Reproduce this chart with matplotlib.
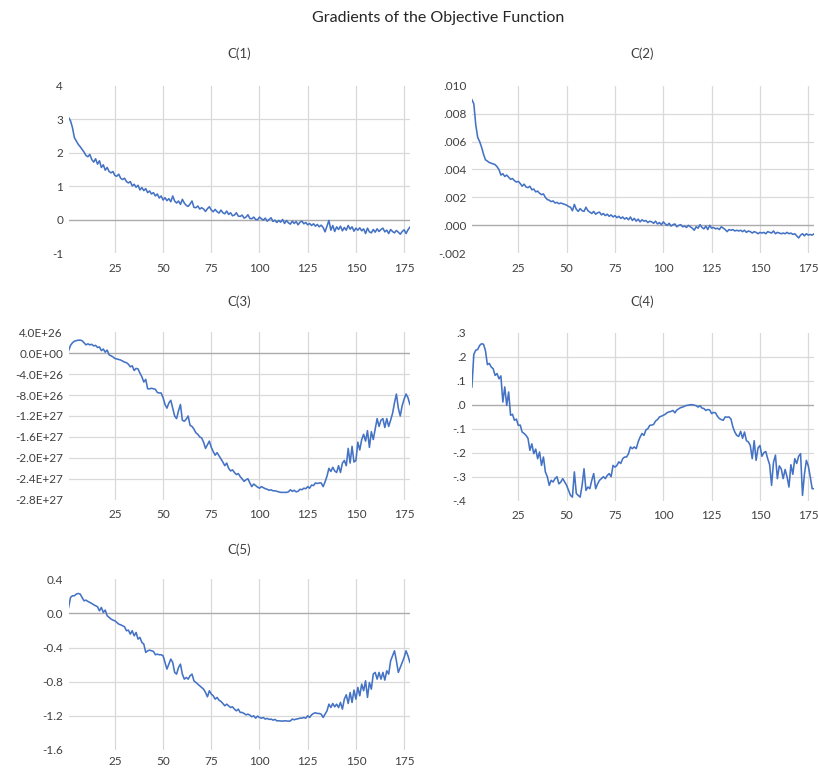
import numpy as np
import matplotlib
matplotlib.use("Agg")
import matplotlib.pyplot as plt
from matplotlib.ticker import FuncFormatter

plt.rcParams['font.family'] = ['Lato', 'DejaVu Sans']

# gradient values per iteration
c1 = [3.05, 2.95, 2.75, 2.45, 2.35, 2.25, 2.18, 2.10, 2.02, 1.92,
      1.88, 1.95, 1.80, 1.72, 1.82, 1.66, 1.76, 1.56, 1.64, 1.48,
      1.56, 1.44, 1.40, 1.44, 1.32, 1.30, 1.36, 1.24, 1.20, 1.24,
      1.14, 1.10, 1.14, 1.01, 1.06, 0.97, 1.03, 0.89, 0.96, 0.87,
      0.93, 0.81, 0.86, 0.77, 0.81, 0.71, 0.77, 0.65, 0.71, 0.59,
      0.66, 0.57, 0.63, 0.54, 0.71, 0.56, 0.50, 0.56, 0.46, 0.61,
      0.50, 0.43, 0.40, 0.47, 0.56, 0.37, 0.36, 0.41, 0.32, 0.36,
      0.32, 0.25, 0.33, 0.39, 0.29, 0.24, 0.31, 0.24, 0.20, 0.29,
      0.21, 0.18, 0.26, 0.16, 0.21, 0.12, 0.14, 0.21, 0.11, 0.10,
      0.14, 0.05, 0.08, 0.15, 0.04, 0.03, 0.08, 0.01, 0.00, 0.08,
      0.03, -0.01, 0.05, -0.04, 0.01, 0.06, -0.05, -0.01, -0.08, -0.02,
      -0.07, 0.01, -0.11, -0.02, -0.09, -0.13, -0.04, -0.11, -0.05, -0.15,
      -0.07, -0.04, -0.12, -0.08, -0.15, -0.11, -0.17, -0.12, -0.19, -0.14,
      -0.21, -0.16, -0.23, -0.36, -0.19, -0.02, -0.31, -0.17, -0.35, -0.21,
      -0.29, -0.19, -0.33, -0.23, -0.31, -0.17, -0.28, -0.21, -0.34, -0.25,
      -0.31, -0.24, -0.33, -0.27, -0.41, -0.25, -0.36, -0.39, -0.29, -0.37,
      -0.27, -0.35, -0.29, -0.25, -0.36, -0.31, -0.41, -0.29, -0.35, -0.39,
      -0.32, -0.37, -0.43, -0.35, -0.30, -0.41, -0.30, -0.22]

c2 = [0.0090, 0.0087, 0.0072, 0.0063, 0.0060, 0.0056, 0.0051, 0.0047, 0.0046, 0.0045,
      0.00445, 0.0044, 0.00435, 0.0042, 0.0040, 0.0036, 0.0037, 0.0035, 0.0036, 0.00345,
      0.0033, 0.00335, 0.0032, 0.0031, 0.00315, 0.0030, 0.0028, 0.00295, 0.00275, 0.0027,
      0.0028, 0.00255, 0.0026, 0.0024, 0.00245, 0.0023, 0.0022, 0.00225, 0.0020, 0.00185,
      0.0018, 0.0017, 0.00175, 0.0016, 0.00165, 0.00155, 0.0016, 0.00155, 0.0015, 0.00145,
      0.00135, 0.0013, 0.00105, 0.0015, 0.00115, 0.0010, 0.0012, 0.00105, 0.0010, 0.0013,
      0.00105, 0.00095, 0.00085, 0.0010, 0.0008, 0.0009, 0.00095, 0.00075, 0.00085, 0.0007,
      0.0008, 0.00065, 0.00075, 0.0006, 0.0007, 0.00055, 0.00065, 0.0005, 0.0006, 0.00045,
      0.00055, 0.0004, 0.0006, 0.00035, 0.0005, 0.0003, 0.00045, 0.00025, 0.0004, 0.0003,
      0.00035, 0.0002, 0.0003, 0.00025, 0.00015, 0.0003, 0.0001, 0.0002, 0.00005, 0.00025,
      0.0001, 0.0, 0.00015, -0.00005, 0.00005, 0.0001, -0.0001, 0.0, 0.00005, -0.0001,
      -0.00005, -0.00015, 0.0, -0.0001, -0.0002, -0.00035, -0.0001, -0.0002, 0.00005, -0.00015,
      -0.00025, -0.00005, -0.0003, 0.0, -0.0002, -0.00015, -0.00025, -0.0002, -0.0003, -0.0001,
      -0.0002, -0.0003, -0.00045, -0.0003, -0.00035, -0.0003, -0.0004, -0.00035, -0.0004, -0.00035,
      -0.00045, -0.00035, -0.0005, -0.0004, -0.00045, -0.00055, -0.00045, -0.0005, -0.0006, -0.0005,
      -0.00055, -0.0005, -0.0006, -0.00045, -0.0005, -0.00055, -0.0004, -0.0006, -0.0005, -0.00055,
      -0.0006, -0.00055, -0.0006, -0.0005, -0.0006, -0.00055, -0.00065, -0.0006, -0.00075, -0.0009,
      -0.0007, -0.0006, -0.00075, -0.0006, -0.0007, -0.00065, -0.0007, -0.0006]

c3 = [0.5e26, 1.5e26, 2.0e26, 2.3e26, 2.4e26, 2.5e26, 2.5e26, 2.4e26, 2.0e26, 1.6e26,
      1.8e26, 1.6e26, 1.7e26, 1.4e26, 1.5e26, 1.1e26, 1.2e26, 0.5e26, 0.8e26, 0.2e26,
      0.6e26, -0.3e26, -0.5e26, -0.7e26, -1.0e26, -1.1e26, -1.2e26, -1.3e26, -1.5e26, -1.7e26,
      -1.8e26, -2.1e26, -2.6e26, -2.4e26, -3.3e26, -2.9e26, -3.0e26, -3.8e26, -4.5e26, -5.5e26,
      -5.0e26, -6.8e26, -6.8e26, -6.7e26, -6.8e26, -6.9e26, -7.5e26, -7.6e26, -7.6e26, -8.5e26,
      -9.8e26, -10.5e26, -9.5e26, -9.0e26, -10.5e26, -12.0e26, -12.5e26, -11.0e26, -9.8e26, -12.8e26,
      -13.0e26, -12.6e26, -12.0e26, -13.8e26, -14.0e26, -14.5e26, -15.2e26, -15.5e26, -16.0e26, -16.2e26,
      -17.0e26, -18.2e26, -17.5e26, -16.8e26, -18.0e26, -18.8e26, -19.5e26, -19.0e26, -19.6e26, -20.2e26,
      -20.8e26, -21.5e26, -21.0e26, -22.0e26, -22.5e26, -22.3e26, -22.8e26, -23.2e26, -23.0e26, -23.6e26,
      -24.0e26, -24.5e26, -24.2e26, -24.0e26, -24.8e26, -25.5e26, -25.0e26, -25.3e26, -25.6e26, -25.8e26,
      -25.5e26, -25.7e26, -25.9e26, -26.0e26, -26.2e26, -26.1e26, -26.3e26, -26.3e26, -26.4e26, -26.5e26,
      -26.6e26, -26.6e26, -26.6e26, -26.6e26, -26.5e26, -26.1e26, -26.4e26, -26.2e26, -26.5e26, -26.4e26,
      -26.0e26, -26.1e26, -25.8e26, -25.9e26, -25.5e26, -25.8e26, -25.2e26, -25.3e26, -24.8e26, -24.9e26,
      -24.8e26, -24.8e26, -25.5e26, -24.6e26, -23.5e26, -22.0e26, -22.6e26, -21.8e26, -22.5e26, -22.8e26,
      -21.5e26, -22.8e26, -21.0e26, -20.5e26, -21.5e26, -18.2e26, -21.0e26, -17.8e26, -20.8e26, -20.5e26,
      -17.0e26, -18.5e26, -16.5e26, -15.5e26, -16.8e26, -14.8e26, -18.0e26, -15.0e26, -16.5e26, -14.5e26,
      -12.5e26, -14.0e26, -12.8e26, -12.5e26, -14.2e26, -12.5e26, -14.0e26, -12.8e26, -11.5e26, -9.5e26,
      -7.8e26, -10.5e26, -12.0e26, -10.0e26, -8.8e26, -7.8e26, -8.5e26, -9.8e26]

c4 = [0.074, 0.21, 0.227, 0.23, 0.247, 0.254, 0.252, 0.226, 0.167, 0.172,
      0.157, 0.150, 0.122, 0.130, 0.108, 0.120, 0.011, 0.074, -0.003, 0.053,
      -0.044, -0.040, -0.065, -0.060, -0.086, -0.085, -0.114, -0.120, -0.128, -0.140,
      -0.190, -0.163, -0.204, -0.185, -0.225, -0.197, -0.253, -0.218, -0.280, -0.300,
      -0.336, -0.315, -0.322, -0.308, -0.300, -0.330, -0.322, -0.308, -0.322, -0.336,
      -0.357, -0.378, -0.385, -0.280, -0.370, -0.378, -0.385, -0.336, -0.267, -0.357,
      -0.343, -0.350, -0.315, -0.287, -0.350, -0.330, -0.315, -0.308, -0.300, -0.308,
      -0.295, -0.287, -0.300, -0.253, -0.260, -0.253, -0.238, -0.245, -0.225, -0.218,
      -0.218, -0.204, -0.176, -0.183, -0.176, -0.183, -0.155, -0.135, -0.120, -0.128,
      -0.105, -0.100, -0.086, -0.085, -0.082, -0.068, -0.062, -0.051, -0.048, -0.044,
      -0.040, -0.033, -0.030, -0.028, -0.024, -0.034, -0.022, -0.017, -0.012, -0.010,
      -0.006, -0.003, -0.002, 0.000, 0.000, -0.002, -0.004, -0.010, -0.004, -0.014,
      -0.016, -0.024, -0.020, -0.022, -0.037, -0.032, -0.034, -0.048, -0.058, -0.062,
      -0.065, -0.051, -0.052, -0.051, -0.060, -0.093, -0.114, -0.128, -0.132, -0.111,
      -0.140, -0.114, -0.150, -0.155, -0.170, -0.225, -0.150, -0.232, -0.180, -0.170,
      -0.215, -0.200, -0.195, -0.225, -0.250, -0.336, -0.240, -0.210, -0.308, -0.255,
      -0.267, -0.308, -0.270, -0.300, -0.343, -0.250, -0.290, -0.225, -0.245, -0.215,
      -0.204, -0.378, -0.290, -0.232, -0.255, -0.300, -0.350, -0.350]

c5 = [0.070, 0.188, 0.207, 0.207, 0.227, 0.234, 0.227, 0.188, 0.148, 0.156,
      0.141, 0.129, 0.117, 0.102, 0.090, 0.078, 0.031, 0.070, 0.012, 0.039,
      -0.027, -0.047, -0.066, -0.078, -0.086, -0.105, -0.125, -0.133, -0.145, -0.156,
      -0.203, -0.195, -0.242, -0.203, -0.262, -0.223, -0.301, -0.281, -0.340, -0.359,
      -0.457, -0.438, -0.430, -0.438, -0.445, -0.484, -0.477, -0.484, -0.484, -0.496,
      -0.574, -0.652, -0.594, -0.535, -0.574, -0.691, -0.711, -0.633, -0.594, -0.711,
      -0.770, -0.750, -0.770, -0.730, -0.711, -0.789, -0.809, -0.828, -0.848, -0.867,
      -0.887, -0.926, -0.977, -0.906, -0.945, -0.965, -1.004, -0.984, -1.016, -1.031,
      -1.055, -1.082, -1.063, -1.082, -1.102, -1.094, -1.121, -1.141, -1.121, -1.160,
      -1.160, -1.172, -1.188, -1.180, -1.191, -1.211, -1.199, -1.227, -1.203, -1.219,
      -1.227, -1.219, -1.238, -1.230, -1.242, -1.238, -1.250, -1.242, -1.258, -1.258,
      -1.260, -1.262, -1.258, -1.260, -1.262, -1.260, -1.238, -1.246, -1.238, -1.234,
      -1.227, -1.227, -1.219, -1.227, -1.199, -1.219, -1.188, -1.172, -1.164, -1.172,
      -1.172, -1.180, -1.219, -1.180, -1.141, -1.063, -1.102, -1.055, -1.094, -1.063,
      -1.102, -1.043, -1.121, -1.004, -0.953, -1.055, -0.926, -1.043, -0.898, -1.004,
      -0.867, -0.965, -0.828, -0.906, -0.789, -0.984, -0.809, -0.887, -0.711, -0.691,
      -0.770, -0.691, -0.770, -0.691, -0.781, -0.672, -0.711, -0.555, -0.496, -0.438,
      -0.555, -0.691, -0.633, -0.574, -0.516, -0.438, -0.496, -0.574]

x_ticks = [25, 50, 75, 100, 125, 150, 175]
c1_ticks = [-1, 0, 1, 2, 3, 4]
c2_ticks = [-0.002, 0.0, 0.002, 0.004, 0.006, 0.008, 0.010]
c3_ticks = [-2.8e27, -2.4e27, -2.0e27, -1.6e27, -1.2e27, -8.0e26, -4.0e26, 0.0, 4.0e26]
c4_ticks = [-0.4, -0.3, -0.2, -0.1, 0.0, 0.1, 0.2, 0.3]
c5_ticks = [-1.6, -1.2, -0.8, -0.4, 0.0, 0.4]

W, H = 818, 770
LINE = '#4472C4'
GRID = '#D9D9D9'
ZERO = '#ABABAB'
TXT = '#3F3F3F'


def px_rect(left, top, right, bottom):
    return [left / W, 1 - bottom / H, (right - left) / W, (bottom - top) / H]


def no_lead_zero(fmt):
    def f(v, pos):
        s = format(v, fmt)
        return s.replace('0.', '.', 1) if s.lstrip('-').startswith('0.') else s
    return f


panels = [
    ('C(1)', c1, c1_ticks, lambda v, p: f'{v:.0f}', px_rect(68.6, 85.7, 409.9, 253.3), (239, 54), 7),
    ('C(2)', c2, c2_ticks, no_lead_zero('.3f'), px_rect(471.9, 85.7, 814.1, 253.3), (642, 54), 7),
    ('C(3)', c3, c3_ticks, lambda v, p: f'{v:.1E}', px_rect(68.6, 332.3, 409.9, 499.7), (239, 302), 7),
    ('C(4)', c4, c4_ticks, no_lead_zero('.1f'), px_rect(471.9, 332.7, 814.1, 500.7), (642, 302), 7),
    ('C(5)', c5, c5_ticks, lambda v, p: f'{v:.1f}', px_rect(68.6, 579.3, 409.9, 750.0), (239, 550), 4.5),
]

fig = plt.figure(figsize=(W / 100, H / 100), dpi=100)
fig.text(438 / W, 1 - 18 / H, 'Gradients of the Objective Function',
         ha='center', va='center', fontsize=11.5, color='#262626')

for title, vals, yt, fmt, rect, tpos, xpad in panels:
    ax = fig.add_axes(rect)
    x = np.arange(1, len(vals) + 1)
    ax.plot(x, vals, color=LINE, lw=1.15, solid_joinstyle='round', zorder=3)
    ax.set_xlim(1, len(vals))
    ax.set_ylim(yt[0], yt[-1])
    ax.set_xticks(x_ticks)
    ax.set_yticks(yt)
    ax.yaxis.set_major_formatter(FuncFormatter(fmt))
    for t in x_ticks:
        ax.axvline(t, color=GRID, lw=0.9, zorder=0)
    for t in yt[1:-1]:
        if t == 0:
            ax.axhline(t, color=ZERO, lw=1.0, zorder=1)
        else:
            ax.axhline(t, color=GRID, lw=0.9, zorder=0)
    for s in ax.spines.values():
        s.set_visible(False)
    ax.tick_params(axis='both', length=0, labelsize=8.5, labelcolor=TXT)
    ax.tick_params(axis='x', pad=xpad)
    ax.tick_params(axis='y', pad=4)
    fig.text(tpos[0] / W, 1 - tpos[1] / H, title, ha='center', va='center',
             fontsize=9.5, color=TXT)

fig.savefig('out.png', dpi=100)
